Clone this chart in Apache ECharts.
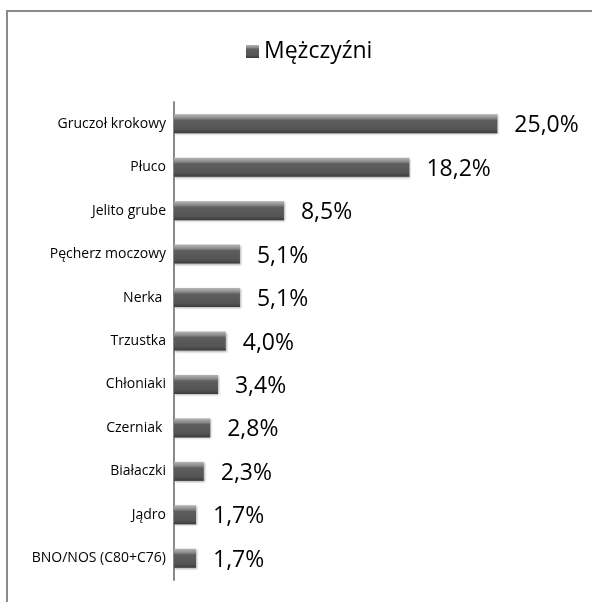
<!DOCTYPE html>
<html>
<head>
<meta charset="utf-8">
<script src="https://cdn.jsdelivr.net/npm/echarts@6/dist/echarts.min.js"></script>
<style>
  html, body { margin: 0; padding: 0; background: #fff; }
  #chart { width: 592px; height: 602px; }
  .frame { position: absolute; left: 6px; top: 10px; width: 600px; height: 600px; border-left: 2px solid #8a8a8a; border-top: 2px solid #8a8a8a; pointer-events: none; }
</style>
</head>
<body>
<div id="chart"></div>
<div class="frame"></div>
<script>
const categories = ['Gruczoł krokowy', 'Płuco', 'Jelito grube', 'Pęcherz moczowy', 'Nerka ', 'Trzustka', 'Chłoniaki', 'Czerniak ', 'Białaczki', 'Jądro', 'BNO/NOS (C80+C76)']
const values = [25.0, 18.2, 8.5, 5.1, 5.1, 4.0, 3.4, 2.8, 2.3, 1.7, 1.7]
const seriesName = 'Mężczyźni'

const barColor = new echarts.graphic.LinearGradient(0, 0, 0, 1, [
  { offset: 0, color: '#b4b4b4' },
  { offset: 0.2, color: '#8c8c8c' },
  { offset: 0.32, color: '#5e5e5e' },
  { offset: 0.8, color: '#545454' },
  { offset: 1, color: '#3a3a3a' }
])

const chart = echarts.init(document.getElementById('chart'))
chart.setOption({
  animation: false,
  textStyle: { fontFamily: 'Open Sans' },
  legend: {
    top: 35,
    left: 241,
    itemWidth: 13,
    itemHeight: 13,
    itemGap: 5,
    icon: 'rect',
    textStyle: { fontSize: 23, color: '#000', fontFamily: 'Open Sans' }
  },
  grid: {
    left: 174,
    right: 30,
    top: 102,
    bottom: 22
  },
  xAxis: {
    type: 'value',
    min: 0,
    max: 30,
    show: false
  },
  yAxis: {
    type: 'category',
    inverse: true,
    data: categories,
    axisLine: { lineStyle: { color: '#8a8a8a', width: 2 } },
    axisTick: { show: false },
    axisLabel: { color: '#000', fontSize: 14, margin: 8 }
  },
  series: [
    {
      name: seriesName,
      type: 'bar',
      data: values,
      barWidth: 19,
      itemStyle: {
        color: barColor,
        shadowColor: 'rgba(0,0,0,0.3)',
        shadowBlur: 2,
        shadowOffsetX: 1,
        shadowOffsetY: 1
      },
      label: {
        show: true,
        position: 'right',
        distance: 17,
        fontSize: 23,
        color: '#000',
        offset: [0, 2],
        formatter: (p) => p.value.toFixed(1).replace('.', ',') + '%'
      }
    }
  ]
})
</script>
</body>
</html>
